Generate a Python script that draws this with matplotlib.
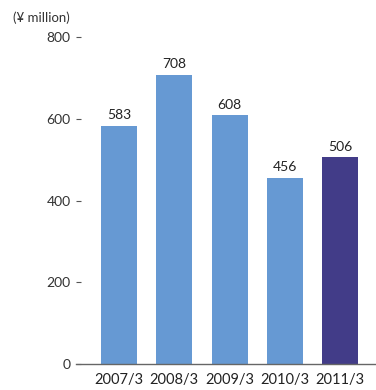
import matplotlib.pyplot as plt

years = ["2007/3", "2008/3", "2009/3", "2010/3", "2011/3"]
sales = [583, 708, 608, 456, 506]
bar_colors = ["#6699d3", "#6699d3", "#6699d3", "#6699d3", "#423c88"]
yticks = [0, 200, 400, 600, 800]

plt.rcParams['font.family'] = ['Lato', 'DejaVu Sans']

fig = plt.figure(figsize=(3.76, 3.9), dpi=100)
ax = fig.add_axes([76 / 376, 1 - 364 / 390, 300 / 376, 327 / 390])

x = range(len(years))
bars = ax.bar(x, sales, width=0.65, color=bar_colors, zorder=2)
for xi, v in zip(x, sales):
    ax.text(xi, v + 11, str(v), ha='center', va='bottom', fontsize=10, color='#222222')

ax.set_xlim(-0.78, 4.65)
ax.set_ylim(0, 800)
ax.set_xticks(list(x))
ax.set_xticklabels(years, fontsize=10.5, color='#222222')
ax.set_yticks(yticks)
ax.set_yticklabels([str(t) for t in yticks], fontsize=10, color='#333333')
ax.tick_params(axis='x', length=0, pad=6.5)
ax.tick_params(axis='y', direction='in', length=3.5, width=0.8, color='#555555', pad=4)

for side in ['left', 'right', 'top']:
    ax.spines[side].set_visible(False)
ax.spines['bottom'].set_color('#666666')
ax.spines['bottom'].set_linewidth(1.0)

fig.text(13 / 376, 1 - 18 / 390, "(¥ million)", fontsize=9.5, color='#333333', va='center')

fig.savefig("out.png", dpi=100)
